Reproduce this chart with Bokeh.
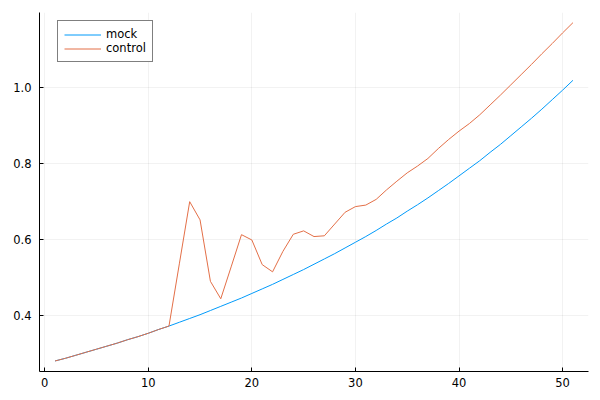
from bokeh.plotting import figure
from bokeh.models import Range1d, FixedTicker, Legend, LegendItem
from bokeh.embed import file_html
from bokeh.resources import INLINE

x = list(range(1, 52))
mock = [0.280, 0.287, 0.295, 0.303, 0.311, 0.319, 0.327, 0.336, 0.344, 0.353,
        0.363, 0.372, 0.382, 0.392, 0.402, 0.413, 0.424, 0.435, 0.446, 0.458,
        0.470, 0.482, 0.495, 0.508, 0.521, 0.535, 0.549, 0.563, 0.578, 0.593,
        0.608, 0.624, 0.641, 0.657, 0.675, 0.692, 0.710, 0.729, 0.748, 0.768,
        0.788, 0.808, 0.830, 0.851, 0.874, 0.897, 0.920, 0.944, 0.969, 0.994,
        1.020]
control = [0.280, 0.287, 0.295, 0.303, 0.311, 0.319, 0.327, 0.336, 0.344, 0.353,
           0.363, 0.372, 0.536, 0.700, 0.652, 0.490, 0.444, 0.528, 0.613, 0.599,
           0.534, 0.515, 0.569, 0.614, 0.623, 0.608, 0.610, 0.641, 0.672, 0.687,
           0.691, 0.706, 0.731, 0.754, 0.776, 0.794, 0.814, 0.840, 0.864, 0.886,
           0.906, 0.929, 0.955, 0.981, 1.008, 1.035, 1.062, 1.090, 1.117, 1.145,
           1.172]
series_names = ["mock", "control"]
x_ticks = [0, 10, 20, 30, 40, 50]
y_ticks = [0.4, 0.6, 0.8, 1.0]
y_tick_labels = ["0.4", "0.6", "0.8", "1.0"]

FONT = "DejaVu Sans"

p = figure(width=592, height=392, output_backend="svg", toolbar_location=None,
           x_range=Range1d(-0.5, 52.5), y_range=Range1d(0.2522, 1.1988),
           min_border_left=39, min_border_right=4, min_border_top=12,
           min_border_bottom=21)
p.outline_line_color = None
p.background_fill_color = "white"
p.border_fill_color = "white"

r1 = p.line(x, mock, line_color="#009AFA", line_width=1)
r2 = p.line(x, control, line_color="#E36F47", line_width=1)

for ax in (p.xaxis[0], p.yaxis[0]):
    ax.axis_line_color = "black"
    ax.axis_line_width = 1
    ax.major_tick_in = 4
    ax.major_tick_out = 0
    ax.minor_tick_line_color = None
    ax.major_tick_line_color = "black"
    ax.major_label_text_font = FONT
    ax.major_label_text_font_size = "11.5px"
    ax.major_label_text_color = "black"

p.xaxis[0].ticker = FixedTicker(ticks=x_ticks)
p.xaxis[0].major_label_standoff = 6
p.yaxis[0].ticker = FixedTicker(ticks=y_ticks)
p.yaxis[0].major_label_overrides = {t: l for t, l in zip(y_ticks, y_tick_labels)}
p.yaxis[0].major_label_standoff = 8

for g in (p.xgrid[0], p.ygrid[0]):
    g.grid_line_color = "black"
    g.grid_line_alpha = 0.1
    g.grid_line_width = 0.5

legend = Legend(items=[LegendItem(label=series_names[0], renderers=[r1]),
                       LegendItem(label=series_names[1], renderers=[r2])],
                location=(18, 309))
legend.label_text_font = FONT
legend.label_text_font_size = "11.5px"
legend.label_text_color = "black"
legend.glyph_width = 37
legend.glyph_height = 13
legend.label_height = 13
legend.label_standoff = 5
legend.padding = 6
legend.spacing = 0
legend.margin = 0
legend.border_line_color = "black"
legend.border_line_width = 1
legend.background_fill_color = "white"
legend.background_fill_alpha = 1
p.add_layout(legend, "center")

open("out.html", "w").write(file_html(p, INLINE))
